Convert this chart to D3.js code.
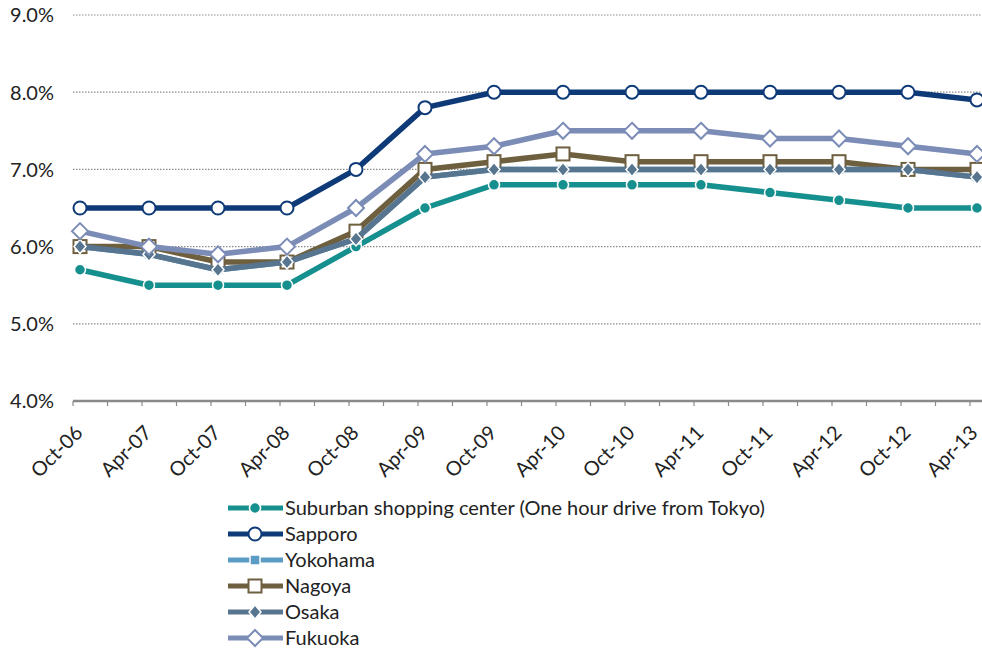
<!DOCTYPE html>
<html><head><meta charset="utf-8">
<script src="https://cdn.jsdelivr.net/npm/d3@7"></script>
<style>body{margin:0;background:#fff}svg{display:block}text{font-family:Lato,"Liberation Sans",sans-serif;fill:#222}</style>
</head><body><svg id="c" width="982" height="652"></svg>
<script>
const categories = ["Oct-06","Apr-07","Oct-07","Apr-08","Oct-08","Apr-09","Oct-09","Apr-10","Oct-10","Apr-11","Oct-11","Apr-12","Oct-12","Apr-13"];
const yTicks = [4,5,6,7,8,9];
const seriesNames = ["Suburban shopping center (One hour drive from Tokyo)","Sapporo","Yokohama","Nagoya","Osaka","Fukuoka"];
const suburban = [5.7,5.5,5.5,5.5,6.0,6.5,6.8,6.8,6.8,6.8,6.7,6.6,6.5,6.5];
const sapporo  = [6.5,6.5,6.5,6.5,7.0,7.8,8.0,8.0,8.0,8.0,8.0,8.0,8.0,7.9];
const yokohama = [6.0,5.9,5.7,5.8,6.1,6.9,7.0,7.0,7.0,7.0,7.0,7.0,7.0,6.9];
const nagoya   = [6.0,6.0,5.8,5.8,6.2,7.0,7.1,7.2,7.1,7.1,7.1,7.1,7.0,7.0];
const osaka    = [6.0,5.9,5.7,5.8,6.1,6.9,7.0,7.0,7.0,7.0,7.0,7.0,7.0,6.9];
const fukuoka  = [6.2,6.0,5.9,6.0,6.5,7.2,7.3,7.5,7.5,7.5,7.4,7.4,7.3,7.2];

const series = [
  {name:seriesNames[0], values:suburban, color:"#16908e", marker:"circleFilled"},
  {name:seriesNames[1], values:sapporo,  color:"#0e3a78", marker:"circleOpen"},
  {name:seriesNames[2], values:yokohama, color:"#5c9bc3", marker:"squareFilled"},
  {name:seriesNames[3], values:nagoya,   color:"#6e5f3f", marker:"squareOpen"},
  {name:seriesNames[4], values:osaka,    color:"#587590", marker:"diamondFilled"},
  {name:seriesNames[5], values:fukuoka,  color:"#7b8cb6", marker:"diamondOpen"}
];

const svg = d3.select("#c");
const x = d3.scalePoint().domain(categories).range([80,977]);
const y = d3.scaleLinear().domain([4,9]).range([401,15]);

// gridlines
svg.append("g").selectAll("line").data(yTicks.filter(d=>d>4)).join("line")
  .attr("x1",73).attr("x2",982).attr("y1",d=>y(d)).attr("y2",d=>y(d))
  .attr("stroke","#8a8a8a").attr("stroke-width",1.2).attr("stroke-dasharray","1.5,1.5");

// y labels
svg.append("g").selectAll("text").data(yTicks).join("text")
  .attr("x",54).attr("y",d=>y(d)).attr("dy","0.37em").attr("text-anchor","end")
  .style("font-size","20px").text(d=>d.toFixed(1)+"%");

// x axis
const step = x.step();
const tickPos = d3.range(0, 27).map(k=>73 + k*step/2).filter(v=>v<=982);
svg.append("g").selectAll("line").data(tickPos).join("line")
  .attr("x1",d=>d).attr("x2",d=>d).attr("y1",401).attr("y2",406)
  .attr("stroke","#8a8a8a").attr("stroke-width",1.2);
svg.append("line").attr("x1",73).attr("x2",982).attr("y1",401).attr("y2",401)
  .attr("stroke","#8a8a8a").attr("stroke-width",2.5);
svg.append("g").selectAll("text").data(categories).join("text")
  .attr("transform",d=>`translate(${Math.min(x(d)+4,979)},${434}) rotate(-45)`)
  .attr("text-anchor","end")
  .style("font-size","20px").text(d=>d);

function drawMarker(g, type, color, cx, cy){
  if(type==="circleFilled") g.append("circle").attr("cx",cx).attr("cy",cy).attr("r",5.5).attr("fill",color).attr("stroke","#fff").attr("stroke-width",1.5);
  if(type==="circleOpen") g.append("circle").attr("cx",cx).attr("cy",cy).attr("r",6.5).attr("fill","#fff").attr("stroke",color).attr("stroke-width",2);
  if(type==="squareFilled") g.append("rect").attr("x",cx-5).attr("y",cy-5).attr("width",10).attr("height",10).attr("fill",color).attr("stroke","#fff").attr("stroke-width",1.5);
  if(type==="squareOpen") g.append("rect").attr("x",cx-6.5).attr("y",cy-6.5).attr("width",13).attr("height",13).attr("fill","#fff").attr("stroke",color).attr("stroke-width",2);
  if(type==="diamondFilled") g.append("path").attr("d",`M${cx},${cy-7}L${cx+6},${cy}L${cx},${cy+7}L${cx-6},${cy}Z`).attr("fill",color).attr("stroke","#fff").attr("stroke-width",1.5);
  if(type==="diamondOpen") g.append("path").attr("d",`M${cx},${cy-8}L${cx+8},${cy}L${cx},${cy+8}L${cx-8},${cy}Z`).attr("fill","#fff").attr("stroke",color).attr("stroke-width",2);
}

const line = d3.line().x((d,i)=>x(categories[i])).y(d=>y(d));
series.forEach(s=>{
  const g = svg.append("g");
  g.append("path").attr("d",line(s.values)).attr("fill","none").attr("stroke",s.color)
    .attr("stroke-width",5.5).attr("stroke-linejoin","round");
  s.values.forEach((v,i)=>drawMarker(g,s.marker,s.color,x(categories[i]),y(v)));
});

// legend
const lg = svg.append("g");
series.forEach((s,i)=>{
  const cy = 508 + i*26;
  const g = lg.append("g");
  g.append("line").attr("x1",228).attr("x2",283).attr("y1",cy).attr("y2",cy).attr("stroke",s.color).attr("stroke-width",5);
  drawMarker(g,s.marker,s.color,255,cy);
  g.append("text").attr("x",285).attr("y",cy).attr("dy","0.37em").style("font-size","20px").text(s.name);
});
</script></body></html>
